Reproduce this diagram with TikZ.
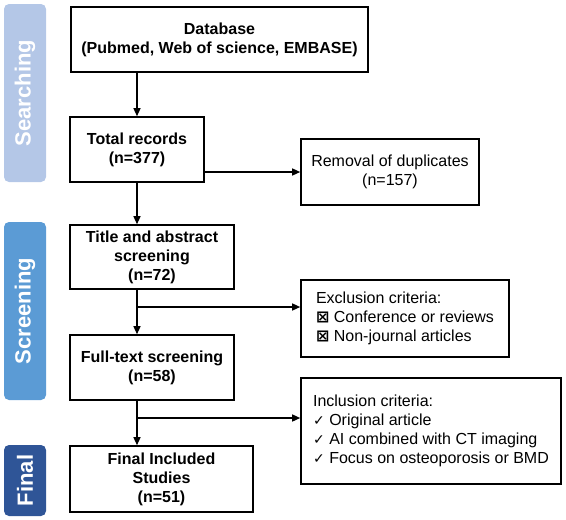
\documentclass[tikz,border=0pt]{standalone}
\usepackage{fontspec}
\setmainfont{Liberation Sans}
\newfontfamily\symfont{DejaVu Sans}
\usepackage{tikz}
\usetikzlibrary{arrows.meta}
\definecolor{SearchBlue}{RGB}{180,199,231}
\definecolor{ScreenBlue}{RGB}{91,155,213}
\definecolor{FinalBlue}{RGB}{47,85,151}
\tikzset{
  flow/.style={x=1pt, y=-1pt, >={Triangle[length=8pt,width=7pt]},
               every node/.style={font=\fontsize{16}{19}\selectfont, inner sep=1pt}},
  pbox/.style={draw, line width=1.6pt, align=center, font=\fontsize{16}{19}\selectfont\bfseries},
  note/.style={draw, line width=1.6pt, align=left},
  band/.style={rounded corners=5pt, text=white, font=\fontsize{22}{24}\selectfont\bfseries, rotate=90,
               inner sep=0pt, minimum height=42pt},
  link/.style={->, line width=1.4pt}
}
\newcommand{\xmark}{{\symfont\bfseries\fontsize{16}{19}\selectfont\char"22A0}}
\newcommand{\tick}{{\symfont\fontsize{14}{19}\selectfont\char"2713}}

\begin{document}
\begin{tikzpicture}[flow]
\useasboundingbox (0,0) rectangle (566,520);
\node[band, fill=SearchBlue, minimum width=178pt] (sbar) at (25,93) {Searching};
\node[band, fill=ScreenBlue, minimum width=178pt] (cbar) at (25,311) {Screening};
\node[band, fill=FinalBlue, minimum width=71pt] (fbar) at (25,480.5) {Final};
\node[pbox, minimum width=297pt, minimum height=65pt] (db) at (219.5,39.5) {Database\\(Pubmed, Web of science, EMBASE)};
\node[pbox, minimum width=134pt, minimum height=65pt] (tot) at (137,149.5) {Total records\\(n=377)};
\node[draw, line width=1.6pt, align=center, minimum width=178pt, minimum height=66pt] (rem) at (390,172) {Removal of duplicates\\(n=157)};
\node[pbox, minimum width=164pt, minimum height=64pt] (tit) at (152,257) {Title and abstract\\screening\\(n=72)};
\node[note, minimum width=208pt, minimum height=77pt] (exc) at (405,318.5) {Exclusion criteria:\\\xmark\ Conference or reviews\\\xmark\ Non-journal articles};
\node[pbox, minimum width=164pt, minimum height=65pt] (ful) at (152,367.5) {Full-text screening\\(n=58)};
\node[note, minimum width=260pt, minimum height=106pt] (inc) at (431,431) {Inclusion criteria:\\\tick\ Original article\\\tick\ AI combined with CT imaging\\\tick\ Focus on osteoporosis or BMD};
\node[pbox, minimum width=183pt, minimum height=66pt] (fin) at (161.5,479) {Final Included\\Studies\\(n=51)};
\coordinate (j1) at (137,307);
\coordinate (j2) at (137,418);
\draw[link] (tot.north |- db.south) -- (tot.north);
\draw[link] (tot.south) -- (tot.south |- tit.north);
\draw[link] (tot.east |- rem.west) -- (rem.west);
\draw[link] (j1 |- tit.south) -- (j1 |- ful.north);
\draw[link] (j1) -- (j1 -| exc.west);
\draw[link] (j2 |- ful.south) -- (j2 |- fin.north);
\draw[link] (j2) -- (j2 -| inc.west);
\end{tikzpicture}
\end{document}
